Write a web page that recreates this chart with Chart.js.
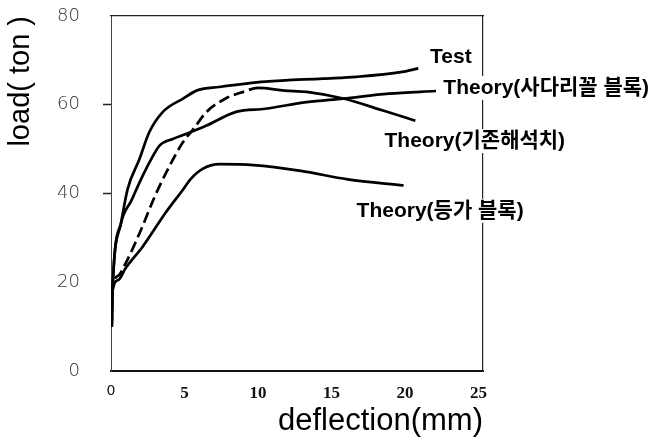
<!DOCTYPE html>
<html lang="ko">
<head>
<meta charset="UTF-8">
<title>load - deflection</title>
<script src="https://cdn.jsdelivr.net/npm/chart.js@4.4.0/dist/chart.umd.min.js"></script>
<style>
  html, body { margin: 0; padding: 0; background: #fff; }
  canvas { display: block; }
</style>
</head>
<body>
<canvas id="chart" width="656" height="443"></canvas>
<script>
  // values (deflection mm / load ton)
  const testX  = [0.05, 0.1, 0.68, 1.13, 1.93, 2.6, 3.5, 4.9, 5.9, 7.35, 10.5, 14.4, 16.7, 19.8, 20.9];
  const testY  = [10, 18, 33.3, 41, 47.7, 53.8, 58.3, 61.4, 63.3, 64, 65.2, 65.9, 66.3, 67.4, 68.2];

  const sadariX = [0.05, 0.1, 0.68, 1.4, 2.04, 2.7, 3.3, 4.2, 5.1, 6.5, 8.5, 10.5, 13.3, 15.8, 18.9, 22.1];
  const sadariY = [10, 18, 33.3, 38.5, 43.2, 47.5, 50.8, 52.3, 53.4, 55.3, 58.4, 59.1, 60.6, 61.4, 62.5, 63.1];

  const existX = [0.05, 0.1, 0.5, 1.0, 2.0, 3.0, 4.0, 4.9, 5.6, 6.5, 7.8, 9.0, 10.0, 11.8, 13.3, 15.8, 18.5, 20.7];
  const existY = [10, 18, 21.5, 24.3, 31.5, 39.5, 46.3, 51.6, 54.5, 58.4, 61.4, 62.9, 63.8, 63.2, 62.9, 61.4, 58.7, 56.4];
  const existDashedUntil = 10;

  const equivX = [0.05, 0.1, 0.5, 1.0, 2.15, 3.7, 4.9, 5.4, 6.2, 7.4, 9.7, 12.9, 16.1, 19.9];
  const equivY = [10, 18, 20.5, 23.2, 28, 35.6, 40.9, 43.2, 45.5, 46.6, 46.4, 45.1, 43.2, 41.8];

  const xTicks = [0, 5, 10, 15, 20, 25];
  const yTicks = [0, 20, 40, 60, 80];
  const yMarked = [40, 60];   // only these ticks show a mark on the axis

  const seriesNames = ['Test', 'Theory(사다리꼴 블록)', 'Theory(기존해석치)', 'Theory(등가 블록)'];
  const labelX = [21.7, 22.6, 18.6, 16.7];
  const labelY = [70.8, 63.8, 51.8, 36.1];

  const toPoints = (xs, ys) => xs.map((x, i) => ({ x: x, y: ys[i] }));

  const lineStyle = {
    borderColor: '#000',
    borderWidth: 2.7,
    pointRadius: 0,
    fill: false,
    cubicInterpolationMode: 'monotone'
  };

  // curve names next to the line ends, on a white box (they cut the right frame)
  const curveLabels = {
    id: 'curveLabels',
    afterDraw(chart) {
      const { ctx } = chart;
      const xs = chart.scales.x, ys = chart.scales.y;
      ctx.save();
      ctx.font = 'bold 21px "Liberation Sans", "Noto Sans CJK KR", sans-serif';
      ctx.textBaseline = 'middle';
      ctx.textAlign = 'left';
      seriesNames.forEach((name, i) => {
        const px = xs.getPixelForValue(labelX[i]);
        const py = ys.getPixelForValue(labelY[i]);
        const w = ctx.measureText(name).width;
        ctx.fillStyle = '#fff';
        ctx.fillRect(px - 2, py - 12, w + 4, 24);
        ctx.fillStyle = '#000';
        ctx.fillText(name, px, py);
      });
      ctx.restore();
    }
  };

  const chart = new Chart(document.getElementById('chart'), {
    type: 'line',
    data: {
      datasets: [
        { ...lineStyle, label: seriesNames[0], data: toPoints(testX, testY) },
        { ...lineStyle, label: seriesNames[1], data: toPoints(sadariX, sadariY) },
        {
          ...lineStyle, label: seriesNames[2], data: toPoints(existX, existY),
          segment: { borderDash: c => c.p1.parsed.x <= existDashedUntil ? [11, 5] : [] }
        },
        { ...lineStyle, label: seriesNames[3], data: toPoints(equivX, equivY) }
      ]
    },
    options: {
      responsive: false,
      animation: false,
      layout: { padding: 0 },
      plugins: { legend: { display: false }, tooltip: { enabled: false } },
      scales: {
        x: {
          type: 'linear', min: 0, max: 25.3,
          afterFit: s => { s.height = 72; },
          afterBuildTicks: s => { s.ticks = xTicks.map(v => ({ value: v })); },
          grid: { display: false, drawTicks: false },
          border: { display: true, color: '#111', width: 2 },
          ticks: {
            padding: 12,
            color: '#111',
            font: c => (c.tick && c.tick.value === 0)
              ? { family: 'DejaVu Sans', size: 14, weight: 'normal' }
              : { family: 'Liberation Serif', size: 17, weight: 'bold' }
          },
          title: {
            display: true, text: 'deflection(mm)', align: 'end', color: '#000',
            font: { family: 'Liberation Sans', size: 31 },
            padding: { top: 0, bottom: 3 }
          }
        },
        y: {
          min: 0, max: 80,
          afterFit: s => { s.width = 111; },
          afterBuildTicks: s => { s.ticks = yTicks.map(v => ({ value: v })); },
          // long tick area keeps the labels away from the axis; the dash shows only its inner 8px
          grid: {
            drawOnChartArea: false, drawTicks: true, tickLength: 31,
            tickWidth: 1.5,
            tickBorderDash: [8, 23],
            tickBorderDashOffset: 8,
            tickColor: c => (c.tick && yMarked.includes(c.tick.value)) ? '#222' : 'rgba(0,0,0,0)'
          },
          border: { display: true, color: '#444', width: 1, dash: [6, 3] },
          ticks: {
            padding: 0,
            color: '#333',
            font: { family: 'DejaVu Sans', size: 18, weight: '200' }
          },
          title: {
            display: true, text: 'load( ton )', align: 'end', color: '#000',
            font: { family: 'Liberation Sans', size: 29 },
            padding: { top: 4, bottom: 0 }
          }
        },
        xTop: {
          type: 'linear', position: 'top', min: 0, max: 1,
          afterFit: s => { s.height = 16; },
          grid: { display: false, drawTicks: false },
          ticks: { display: false },
          border: { display: true, color: '#222', width: 1.2, dash: [0, 22, 1000, 0] }
        },
        yRight: {
          type: 'linear', position: 'right', min: 0, max: 1,
          afterFit: s => { s.width = 173; },
          grid: { display: false, drawTicks: false },
          ticks: { display: false },
          border: { display: true, color: '#222', width: 1.2 }
        }
      }
    },
    plugins: [curveLabels]
  });
</script>
</body>
</html>
